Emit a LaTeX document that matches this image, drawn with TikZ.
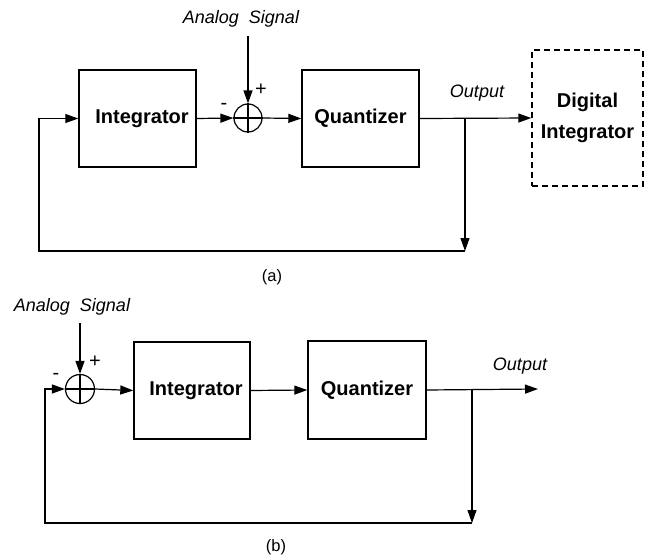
\documentclass[tikz,border=0pt]{standalone}
\usepackage{fontspec}
\setmainfont{Liberation Sans}
\usetikzlibrary{arrows.meta}
\begin{document}
\begin{tikzpicture}[x=1pt,y=-1pt,
  blk/.style={draw,line width=1.4pt,minimum width=117pt,minimum height=97pt,inner sep=0pt,font=\fontsize{20}{24}\selectfont\bfseries},
  dblk/.style={draw,dashed,dash pattern=on 6pt off 4pt,line width=1.4pt,minimum width=111pt,minimum height=136pt,inner sep=0pt,align=center,font=\fontsize{20}{31}\selectfont\bfseries},
  summ/.style={draw,circle,line width=1.2pt,minimum size=28pt,inner sep=0pt},
  lbl/.style={font=\fontsize{18}{22}\selectfont\itshape,inner sep=0pt},
  sgn/.style={font=\fontsize{20}{24}\selectfont,inner sep=0pt},
  captxt/.style={font=\fontsize{16.5}{20}\selectfont,inner sep=0pt},
  wire/.style={line width=1.2pt},
  arr/.style={line width=1.2pt,-{Triangle[length=13pt,width=9pt]}}]
\useasboundingbox (0,0) rectangle (649,557);
% ---------- (a) ----------
\node[blk] (intA) at (137.5,118.5) {\hspace*{9pt}Integrator};
\node[summ] (sumA) at (248,118) {};
\draw[wire] (sumA.north) -- (sumA.south) (sumA.west) -- (sumA.east);
\node[blk] (quaA) at (360.5,118.5) {Quantizer};
\node[dblk] (digA) at (587.5,118) {Digital\\Integrator};
\node[lbl] (anA) at (241,19) {Analog\ \ Signal};
\coordinate (inA) at (248,36);
\node[sgn] (plA) at (261,90) {+};
\node[sgn] (miA) at (224,106) {-};
\node[lbl] (outA) at (477,93) {Output};
\coordinate (brA) at (465,118);
\coordinate (botA) at (465,251);
\coordinate (leftA) at (39,251);
\node[captxt] (capA) at (272,277) {(a)};
\draw[arr] (inA) -- (sumA.north);
\draw[arr] (intA.east) -- (sumA.west);
\draw[arr] (sumA.east) -- (quaA.west);
\draw[arr] (quaA.east) -- (digA.west);
\draw[arr] (brA) -- (botA);
\draw[arr] (botA) -- (leftA) |- (intA.west);
% ---------- (b) ----------
\node[summ,minimum size=29pt] (sumB) at (80,389) {};
\draw[wire] (sumB.north) -- (sumB.south) (sumB.west) -- (sumB.east);
\node[blk,minimum width=116pt] (intB) at (192,390.5) {\hspace*{8pt}Integrator};
\node[blk,minimum width=118pt,minimum height=98pt] (quaB) at (367,390) {Quantizer};
\node[lbl] (anB) at (72,307) {Analog\ \ Signal};
\coordinate (inB) at (80,323);
\node[sgn] (plB) at (95,362) {+};
\node[sgn] (miB) at (56,376) {-};
\node[lbl] (outB) at (520,366) {Output};
\coordinate (endB) at (538,389);
\coordinate (brB) at (472,389);
\coordinate (botB) at (472,523);
\coordinate (leftB) at (45,523);
\node[captxt] (capB) at (276,547) {(b)};
\draw[arr] (inB) -- (sumB.north);
\draw[arr] (sumB.east) -- (intB.west);
\draw[arr] (intB.east) -- (quaB.west);
\draw[arr] (quaB.east) -- (endB);
\draw[arr] (brB) -- (botB);
\draw[arr] (botB) -- (leftB) |- (sumB.west);
\end{tikzpicture}
\end{document}
